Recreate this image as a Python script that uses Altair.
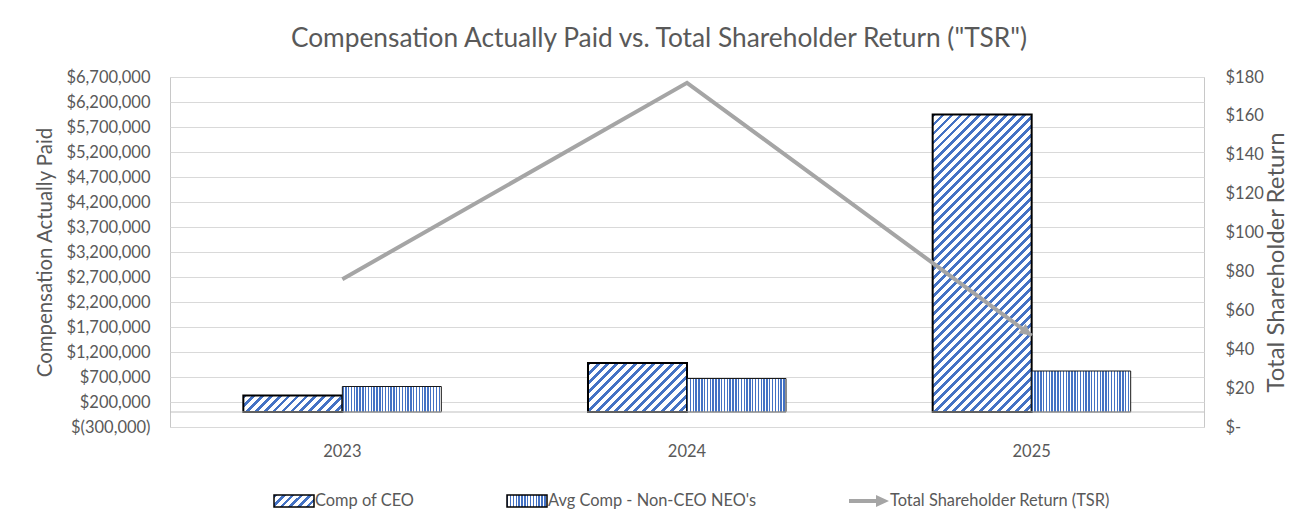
import json
import math
import altair as alt
import pandas as pd

# ---------------- data ----------------
years = ["2023", "2024", "2025"]
ceo_comp = [330000, 980000, 5950000]
neo_comp = [510000, 670000, 820000]
tsr = [76, 177, 47]
series_names = ["Comp of CEO", "Avg Comp - Non-CEO NEO's", "Total Shareholder Return (TSR)"]
left_ticks = list(range(-300000, 6700001, 500000))
right_ticks = list(range(0, 181, 20))
left_domain = [-300000, 6700000]
right_domain = [0, 180]

# ---------------- styling / layout ----------------
W, H = 1034, 350
PAD_INNER = 0.4255
PAD_OUTER = PAD_INNER / 2
BLUE = "#4472C4"
WHITE = "#FFFFFF"
GRAY_LINE = "#A5A5A5"
TEXT = "#595959"
FONT = "Lato"

step = W / (len(years) - PAD_INNER + 2 * PAD_OUTER)
bar_w = step * (1 - PAD_INNER) / 2
px_per_unit = H / (left_domain[1] - left_domain[0])


def diag_gradient(w, h, period=9.0, frac=0.42):
    n = max(1, round((w + h) / period))
    s = (w + h) / (w * w + h * h)
    stops = []
    for k in range(n):
        a, b, c = k / n, (k + frac) / n, (k + 1) / n
        stops += [
            {"offset": round(a, 5), "color": BLUE},
            {"offset": round(b, 5), "color": BLUE},
            {"offset": round(b, 5), "color": WHITE},
            {"offset": round(c, 5), "color": WHITE},
        ]
    return {"gradient": "linear", "x1": 0, "y1": 0,
            "x2": round(w * s, 5), "y2": round(h * s, 5), "stops": stops}


def vert_gradient(w, period=2.8, frac=0.5):
    n = max(1, round(w / period))
    stops = []
    for k in range(n):
        a, b, c = k / n, (k + frac) / n, (k + 1) / n
        stops += [
            {"offset": round(a, 5), "color": BLUE},
            {"offset": round(b, 5), "color": BLUE},
            {"offset": round(b, 5), "color": WHITE},
            {"offset": round(c, 5), "color": WHITE},
        ]
    return {"gradient": "linear", "x1": 0, "y1": 0, "x2": 1, "y2": 0, "stops": stops}


ceo_df = pd.DataFrame({"year": years, "series": series_names[0], "comp": ceo_comp})
neo_df = pd.DataFrame({"year": years, "series": series_names[1], "comp": neo_comp})
tsr_df = pd.DataFrame({"year": years, "series": series_names[2], "tsr": tsr})
legend_df = pd.DataFrame({"series": series_names})

x_enc = alt.X(
    "year:N", sort=years,
    scale=alt.Scale(paddingInner=PAD_INNER, paddingOuter=PAD_OUTER),
    axis=alt.Axis(title=None, ticks=False, domain=False, labelPadding=16, labelAngle=0),
)
xoff = alt.XOffset("series:N", sort=series_names[:2], scale=alt.Scale(domain=series_names[:2]))

y_left = alt.Y(
    "comp:Q",
    scale=alt.Scale(domain=left_domain, nice=False, zero=False),
    axis=alt.Axis(
        values=left_ticks, tickCount=len(left_ticks), labelOverlap=False,
        labelExpr="datum.value < 0 ? '$(' + format(-datum.value, ',') + ')' : '$' + format(datum.value, ',')",
        grid=True, gridColor="#D9D9D9", ticks=False, domain=False, labelPadding=20,
        title="Compensation Actually Paid", titleAngle=270, titleX=-125, titleY=175,
        titleAlign="center", titleBaseline="middle", titleFontSize=20.4,
    ),
)
y_right = alt.Y(
    "tsr:Q",
    scale=alt.Scale(domain=right_domain, nice=False, zero=False),
    axis=alt.Axis(
        orient="right", values=right_ticks, tickCount=len(right_ticks), labelOverlap=False,
        labelExpr="datum.value == 0 ? '$-' : '$' + datum.value",
        grid=False, ticks=False, domain=False, labelPadding=21,
        title="Total Shareholder Return", titleAngle=270, titleX=72, titleY=185,
        titleAlign="center", titleBaseline="middle", titleFontSize=24,
    ),
)

# CEO bars: one layer per bar so each stripe gradient fits its own box
ceo_layers = []
for i, yr in enumerate(years):
    g = diag_gradient(bar_w, ceo_comp[i] * px_per_unit)
    ceo_layers.append(
        alt.Chart(ceo_df)
        .transform_filter(alt.FieldEqualPredicate(field="year", equal=yr))
        .mark_bar(fill=g, stroke="#000000", strokeWidth=2)
        .encode(x=x_enc, xOffset=xoff, y=y_left)
    )

neo_layer = (
    alt.Chart(neo_df)
    .mark_bar(fill=vert_gradient(bar_w), stroke="#1A1A1A", strokeWidth=1)
    .encode(x=x_enc, xOffset=xoff, y=y_left)
)

zero_rule = (
    alt.Chart(ceo_df)
    .transform_aggregate(n="count()")
    .mark_rule(color="#BFBFBF", strokeWidth=1.2)
    .encode(y=alt.datum(0))
)

# legend built by Vega-Lite from a shape scale (no marks drawn)
LEG_RECT = "M-1,-0.3L1,-0.3L1,0.3L-1,0.3Z"
LEG_ARROW = "M-1,-0.1L0.35,-0.1L0.35,-0.3L1,0L0.35,0.3L0.35,0.1L-1,0.1Z"
leg_fill = (
    f"datum.value === {json.dumps(series_names[0])} ? {json.dumps(diag_gradient(40, 12))} : "
    f"datum.value === {json.dumps(series_names[1])} ? {json.dumps(vert_gradient(40))} : '{GRAY_LINE}'"
)
leg_stroke = (
    f"datum.value === {json.dumps(series_names[2])} ? 'transparent' : '#000000'"
)
leg_sw = (
    f"datum.value === {json.dumps(series_names[0])} ? 2 : datum.value === {json.dumps(series_names[1])} ? 1 : 0"
)
legend_layer = (
    alt.Chart(legend_df)
    .transform_filter("false")
    .mark_point(filled=True, opacity=1,
                fill=alt.ExprRef(expr=leg_fill),
                stroke=alt.ExprRef(expr=leg_stroke),
                strokeWidth=alt.ExprRef(expr=leg_sw))
    .encode(
        shape=alt.Shape(
            "series:N",
            scale=alt.Scale(domain=series_names, range=[LEG_RECT, LEG_RECT, LEG_ARROW]),
            legend=alt.Legend(
                title=None, orient="none", direction="horizontal",
                legendX=103, legendY=403, symbolSize=1600, padding=0,
                labelFont=FONT, labelFontSize=16.4, labelColor=TEXT,
                labelOffset=0, columnPadding=89, labelLimit=0,
            ),
        )
    )
)

left = alt.layer(*ceo_layers, neo_layer, zero_rule, legend_layer)

# TSR line with arrow head at the last point
ang = math.degrees(math.atan2((tsr[1] - tsr[2]) / (right_domain[1] - right_domain[0]) * H, step))
tsr_line = (
    alt.Chart(tsr_df)
    .mark_line(color=GRAY_LINE, strokeWidth=4, strokeCap="butt")
    .encode(x=x_enc, y=y_right)
)
tsr_head = (
    alt.Chart(tsr_df)
    .transform_filter(alt.FieldEqualPredicate(field="year", equal=years[-1]))
    .mark_point(shape="M0,0L-1,-0.5L-1,0.5Z", filled=True, size=576, angle=ang,
                color=GRAY_LINE, opacity=1, strokeWidth=0)
    .encode(x=x_enc, y=y_right)
)
right = alt.layer(tsr_line, tsr_head)

chart = (
    alt.layer(left, right)
    .resolve_scale(y="independent")
    .properties(
        width=W, height=H,
        padding={"left": 162, "top": 69, "right": 86, "bottom": 90},
        autosize=alt.AutoSizeParams(type="none"),
        title=alt.TitleParams(
            text='Compensation Actually Paid vs. Total Shareholder Return ("TSR")',
            font=FONT, fontSize=26.3, color=TEXT, fontWeight="normal",
            anchor="middle", frame="group", dx=-28, offset=17,
        ),
    )
    .configure_view(stroke="#C8C8C8", strokeWidth=1)
    .configure_axis(
        labelFont=FONT, titleFont=FONT, labelColor=TEXT, titleColor=TEXT,
        labelFontSize=16.5, titleFontSize=20, titleFontWeight="normal",
    )
)

chart.save("out.html", embed_options={"renderer": "svg", "actions": False})
